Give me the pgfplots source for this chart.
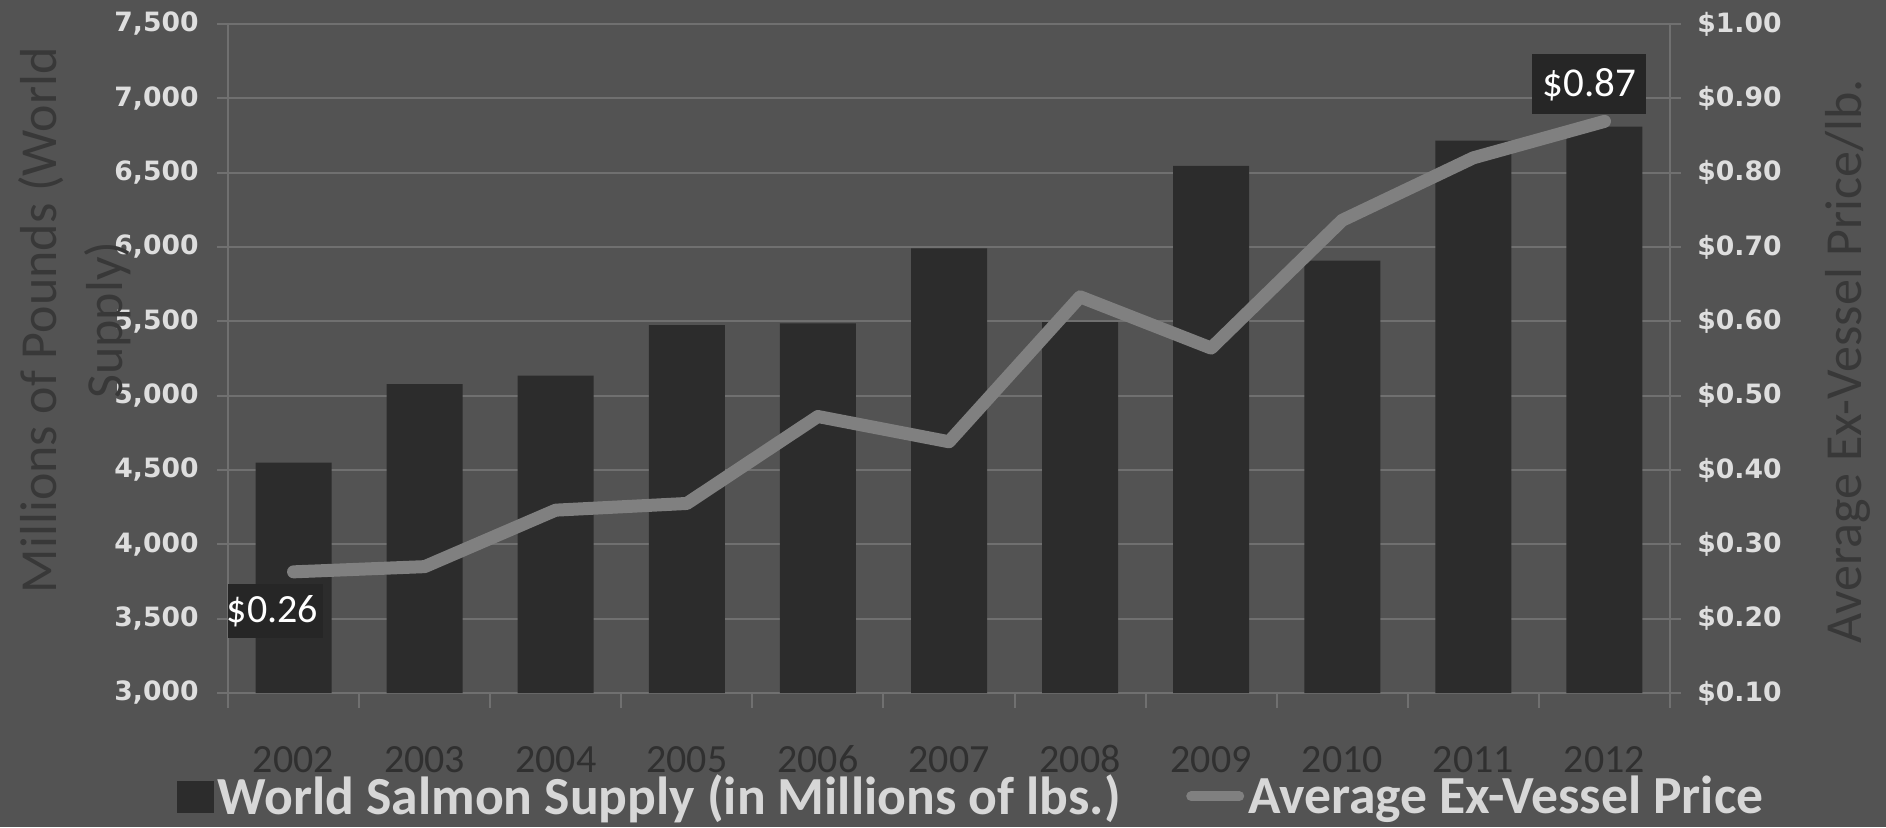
\documentclass[border=0pt]{standalone}
\usepackage{pgfplots}
\pgfplotsset{compat=1.18}
\usepackage{fontspec}
\setmainfont{Carlito}
\newfontfamily\tickfont{DejaVu Sans}

\definecolor{bg}{RGB}{83,83,83}
\definecolor{barc}{RGB}{44,44,44}
\definecolor{gridc}{RGB}{112,112,112}
\definecolor{linec}{RGB}{128,128,128}
\definecolor{tickc}{RGB}{222,222,222}
\definecolor{titlec}{RGB}{56,56,56}
\definecolor{yearc}{RGB}{48,48,48}
\definecolor{legc}{RGB}{215,215,215}
\definecolor{boxc}{RGB}{38,38,38}

\begin{document}
\begin{tikzpicture}
\path[use as bounding box, fill=bg] (0,0) rectangle (943pt,413.5pt);
\begin{axis}[
  at={(114pt,67pt)}, anchor=south west,
  scale only axis, width=721pt, height=334.5pt,
  xmin=-0.5, xmax=10.5, ymin=3000, ymax=7500,
  ytick={3000,3500,4000,4500,5000,5500,6000,6500,7000,7500},
  xtick={0,1,2,3,4,5,6,7,8,9,10},
  xticklabels={2002,2003,2004,2005,2006,2007,2008,2009,2010,2011,2012},
  axis line style={draw=gridc, line width=1pt},
  ymajorgrids, grid style={draw=gridc, line width=1pt},
  tick style={draw=gridc, line width=1pt},
  major tick length=5.5pt,
  tick align=outside,
  ytick pos=left, xtick pos=bottom,
  major x tick style={draw=none},
  extra x ticks={-0.5,0.5,1.5,2.5,3.5,4.5,5.5,6.5,7.5,8.5,9.5,10.5},
  extra x tick labels={},
  extra x tick style={major tick length=7.5pt, major x tick style={draw=gridc, line width=1pt}, xmajorgrids=false},
  yticklabel style={font=\tickfont\bfseries\fontsize{13.3pt}{15pt}\selectfont, text=tickc, anchor=east, inner sep=0pt, xshift=-9pt},
  xticklabel style={font=\fontsize{20pt}{24pt}\selectfont, text=yearc, anchor=base, inner sep=0pt, yshift=-34pt},
  /pgf/number format/1000 sep={,},
  /pgf/number format/assume math mode=true,
  ylabel={Millions of Pounds (World\\Supply)},
  every axis y label/.style={at={(axis description cs:-0.106,0.5575)}, rotate=90, anchor=center, align=center, font=\fontsize{26pt}{33pt}\selectfont, text=titlec},
]
\addplot[ybar, bar width=38pt, fill=barc, draw=none] coordinates {
(0,4550) (1,5078) (2,5134) (3,5475) (4,5487) (5,5991) (6,5495) (7,6545) (8,5908) (9,6715) (10,6810)
};
\end{axis}
\begin{axis}[
  at={(114pt,67pt)}, anchor=south west,
  scale only axis, width=721pt, height=334.5pt,
  xmin=-0.5, xmax=10.5, ymin=0.1, ymax=1.0,
  axis x line=none, axis y line*=right,
  axis line style={draw=gridc, line width=1pt},
  ytick={0.1,0.2,0.3,0.4,0.5,0.6,0.7,0.8,0.9,1.0},
  tick style={draw=gridc, line width=1pt},
  major tick length=5.5pt, tick align=outside,
  /pgf/number format/assume math mode=true,
  yticklabel={\$\pgfmathprintnumber[fixed,fixed zerofill,precision=2]{\tick}},
  yticklabel style={font=\tickfont\bfseries\fontsize{13.3pt}{15pt}\selectfont, text=tickc, anchor=west, inner sep=0pt, xshift=8pt},
  ylabel={Average Ex-Vessel Price/lb.},
  every axis y label/.style={at={(axis description cs:1.1234,0.496)}, rotate=90, anchor=center, font=\fontsize{26pt}{30pt}\selectfont, text=titlec},
  legend columns=2,
  legend cell align=left,
  legend style={at={(axis description cs:-0.0355,-0.193)}, anchor=south west, draw=none, fill=none, inner sep=0pt, font=\bfseries\fontsize{26.8pt}{30pt}\selectfont, text=legc, nodes={inner sep=2pt}, /tikz/every even column/.append style={column sep=31pt}},
]
\addlegendimage{legend image code/.code={\fill[barc] (0pt,-8pt) rectangle (18pt,7.5pt);}}
\addlegendentry{World Salmon Supply (in Millions of lbs.)}
\addplot[draw=linec, line width=6.5pt, line cap=round, line join=round, legend image code/.code={\draw[line width=5pt, linec] (0pt,0pt) -- (24pt,0pt);}] coordinates {
(0,0.263) (1,0.27) (2,0.346) (3,0.355) (4,0.472) (5,0.438) (6,0.633) (7,0.564) (8,0.736) (9,0.82) (10,0.869)
};
\addlegendentry{Average Ex-Vessel Price}
\node[fill=boxc, text=white, font=\fontsize{20pt}{24pt}\selectfont, minimum width=50pt, minimum height=27pt, inner sep=2pt, xshift=-10.5pt, yshift=-19.5pt] at (axis cs:0,0.263) {\$0.26};
\node[fill=boxc, text=white, font=\fontsize{20.5pt}{24pt}\selectfont, minimum width=57pt, minimum height=30pt, inner sep=2pt, xshift=-7.5pt, yshift=18.5pt] at (axis cs:10,0.869) {\$0.87};
\end{axis}
\end{tikzpicture}
\end{document}
